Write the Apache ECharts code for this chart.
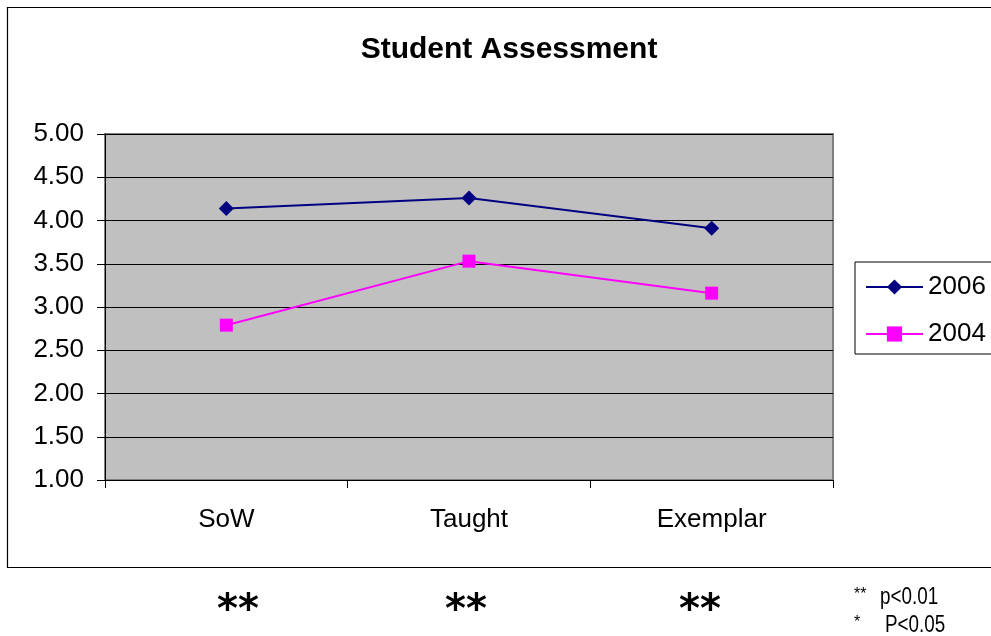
<!DOCTYPE html>
<html><head><meta charset="utf-8">
<script src="https://cdn.jsdelivr.net/npm/echarts@6/dist/echarts.min.js"></script>
<style>html,body{margin:0;padding:0;background:#fff}#c{width:991px;height:636px}</style>
</head><body><div id="c"></div>
<script>
const categories = ['SoW', 'Taught', 'Exemplar'];
const series2006 = [4.14, 4.26, 3.91];
const series2004 = [2.79, 3.53, 3.16];
const yTicks = { min: 1, max: 5, interval: 0.5 };
const significance = ['**', '**', '**'];
const significanceX = [238, 466, 700];
const notes = [['**', 'p<0.01'], ['*', 'P<0.05']];

const chart = echarts.init(document.getElementById('c'));
const font = 'Liberation Sans, Arial, sans-serif';
const g = [
  { type: 'rect', shape: { x: 7.5, y: 7.5, width: 1010, height: 560 },
    style: { fill: 'none', stroke: '#000', lineWidth: 1.2 }, silent: true, z: -1 }
];
significance.forEach((s, i) => {
  g.push({ type: 'text', x: significanceX[i], y: 612, style: { text: s, fontFamily: 'DejaVu Sans', fontSize: 40, fontWeight: 'bold', fill: '#000', align: 'center', verticalAlign: 'middle' } });
});
notes.forEach((t, i) => {
  g.push({ type: 'text', x: 854, y: 595 + i * 28, style: { text: t[0], fontFamily: font, fontSize: 16, fill: '#000', verticalAlign: 'middle' } });
  g.push({ type: 'text', x: i === 0 ? 880 : 885, y: 598 + i * 28, scaleX: 0.82, style: { text: t[1], fontFamily: font, fontSize: 23, fill: '#000', verticalAlign: 'middle' } });
});

chart.setOption({
  animation: false,
  backgroundColor: '#fff',
  title: { text: 'Student Assessment', left: 504, top: 30, textAlign: 'center',
    textStyle: { fontFamily: font, fontSize: 30, fontWeight: 'bold', color: '#000' } },
  grid: { left: 105, top: 134, width: 728, height: 346, show: true,
    backgroundColor: '#c0c0c0', borderColor: '#808080', borderWidth: 2, containLabel: false },
  legend: {
    left: 855, top: 262, orient: 'vertical', itemGap: 21, padding: [12, 20, 7, 10],
    borderColor: '#000', borderWidth: 1, itemWidth: 57, itemHeight: 19,
    textStyle: { fontFamily: font, fontSize: 26, color: '#000' },
    data: ['2006', '2004']
  },
  xAxis: {
    type: 'category', data: categories, boundaryGap: true,
    axisLine: { lineStyle: { color: '#000', width: 1 } },
    axisTick: { show: true, length: 8, alignWithLabel: false, lineStyle: { color: '#000' } },
    axisLabel: { fontFamily: font, fontSize: 26, color: '#000', margin: 27 }
  },
  yAxis: {
    type: 'value', min: yTicks.min, max: yTicks.max, interval: yTicks.interval,
    axisLine: { show: true, lineStyle: { color: '#000', width: 1 } },
    axisTick: { show: true, length: 8, lineStyle: { color: '#000' } },
    splitLine: { show: true, lineStyle: { color: '#000', width: 1 } },
    axisLabel: { fontFamily: font, fontSize: 26, color: '#000', margin: 21,
      formatter: v => v.toFixed(2) }
  },
  series: [
    { name: '2006', type: 'line', data: series2006, symbol: 'diamond', symbolSize: 15,
      lineStyle: { color: '#000080', width: 2 }, itemStyle: { color: '#000080' } },
    { name: '2004', type: 'line', data: series2004, symbol: 'rect', symbolSize: 13,
      lineStyle: { color: '#ff00ff', width: 2 }, itemStyle: { color: '#ff00ff' } }
  ],
  graphic: g
});
</script></body></html>
